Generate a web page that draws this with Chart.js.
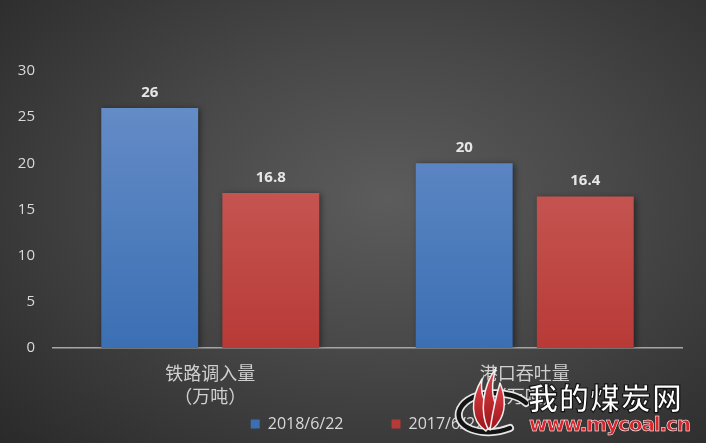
<!DOCTYPE html>
<html>
<head>
<meta charset="utf-8">
<script src="https://cdn.jsdelivr.net/npm/chart.js@4"></script>
<style>
  html, body { margin: 0; padding: 0; }
  body { width: 706px; height: 443px; overflow: hidden; }
  #wrap {
    position: relative; width: 706px; height: 443px;
    background: radial-gradient(ellipse 75% 80% at 55% 45%, #5c5c5c 0%, #474747 45%, #2a2a2a 100%);
  }
  canvas { position: absolute; left: 0; top: 0; }
  .logo { position: absolute; left: 430px; top: 365px; }
  .wm1 {
    position: absolute; left: 528px; top: 376px;
    font: bold 30px "Noto Sans CJK SC"; color: #fff; line-height: 40px;
    -webkit-text-stroke: 1.2px #111; letter-spacing: 1px;
  }
  .wm2 {
    position: absolute; left: 529px; top: 412px;
    font: bold 20px "DejaVu Sans"; color: #d8262c; letter-spacing: -1.1px;
    -webkit-text-stroke: 0.5px #fff;
  }
</style>
</head>
<body>
<div id="wrap">
  <canvas id="chart" width="706" height="443"></canvas>
  <svg class="logo" width="110" height="78" viewBox="0 0 110 78">
    <defs>
      <linearGradient id="fl" x1="0" y1="0" x2="0" y2="1">
        <stop offset="0" stop-color="#e0424a"/>
        <stop offset="1" stop-color="#9e1419"/>
      </linearGradient>
    </defs>
    <path d="M96 38 C 82 24, 40 24, 30 44 C 22 62, 52 74, 80 63" fill="none" stroke="#e6e6e6" stroke-width="8" stroke-linecap="round"/>
    <path d="M96 38 C 82 24, 40 24, 30 44 C 22 62, 52 74, 80 63" fill="none" stroke="#151515" stroke-width="4.5" stroke-linecap="round"/>
    <g fill="url(#fl)" stroke="#f0f0f0" stroke-width="1.5" stroke-linejoin="round">
      <path d="M56 66 C 40 56, 40 34, 52 14 C 50 28, 54 36, 60 46 C 62 56, 60 62, 56 66 Z"/>
      <path d="M58 64 C 50 48, 52 22, 66 3 C 60 22, 62 34, 68 44 C 70 54, 64 60, 58 64 Z"/>
      <path d="M60 65 C 62 52, 64 38, 70 18 C 76 32, 76 48, 68 58 C 66 62, 62 64, 60 65 Z"/>
    </g>
  </svg>
  <div class="wm1">我的煤炭网</div>
  <div class="wm2">www.mycoal.cn</div>
</div>
<script>
const categories = [['铁路调入量', '（万吨）'], ['港口吞吐量', '（万吨）']];
const series2018 = [26, 20];
const series2017 = [16.8, 16.4];
const seriesNames = ['2018/6/22', '2017/6/22'];
const yTicks = [0, 5, 10, 15, 20, 25, 30];

function barGradient(ctx, top, bottom) {
  const area = ctx.chart.chartArea;
  if (!area) return top;
  const g = ctx.chart.ctx.createLinearGradient(0, area.top, 0, area.bottom);
  g.addColorStop(0, top);
  g.addColorStop(1, bottom);
  return g;
}

// value labels above each bar
const valueLabels = {
  id: 'valueLabels',
  afterDatasetsDraw(chart) {
    const ctx = chart.ctx;
    ctx.save();
    ctx.font = 'bold 15px "Open Sans"';
    ctx.fillStyle = '#e6e6e6';
    ctx.textAlign = 'center';
    ctx.textBaseline = 'bottom';
    chart.data.datasets.forEach((ds, i) => {
      chart.getDatasetMeta(i).data.forEach((bar, j) => {
        ctx.fillText(String(ds.data[j]), bar.x, bar.y - 8);
      });
    });
    ctx.restore();
  }
};

// soft shadow behind bars
const barShadow = {
  id: 'barShadow',
  beforeDatasetsDraw(chart) {
    chart.ctx.save();
    chart.ctx.shadowColor = 'rgba(0,0,0,0.45)';
    chart.ctx.shadowBlur = 6;
    chart.ctx.shadowOffsetX = 2;
    chart.ctx.shadowOffsetY = 1;
  },
  afterDatasetsDraw(chart) {
    chart.ctx.restore();
  }
};

new Chart(document.getElementById('chart'), {
  type: 'bar',
  data: {
    labels: categories,
    datasets: [
      {
        label: seriesNames[0],
        data: series2018,
        backgroundColor: ctx => barGradient(ctx, '#6a90c9', '#3b6fb3'),
        categoryPercentage: 0.77,
        barPercentage: 0.8
      },
      {
        label: seriesNames[1],
        data: series2017,
        backgroundColor: ctx => barGradient(ctx, '#cf6964', '#b83a37'),
        categoryPercentage: 0.77,
        barPercentage: 0.8
      }
    ]
  },
  options: {
    responsive: false,
    animation: false,
    layout: { padding: { top: 71, right: 24, left: 0, bottom: 1 } },
    scales: {
      x: {
        grid: { display: false },
        border: { color: '#a6a6a6', width: 1.5 },
        ticks: {
          color: '#cfcfcf',
          font: { family: '"Noto Sans CJK SC"', size: 18, lineHeight: 1.28 },
          padding: 6
        },
        afterFit(axis) {
          // labels reach into the legend band, so don't clip them to the axis box
          axis.height = 20;
          axis._computeLabelArea = () => undefined;
        }
      },
      y: {
        min: 0,
        max: 30,
        grid: { display: false },
        border: { display: false },
        afterBuildTicks(axis) { axis.ticks = yTicks.map(v => ({ value: v })); },
        ticks: {
          color: '#d9d9d9',
          font: { family: '"Open Sans"', size: 15 },
          padding: 10
        },
        afterFit(axis) { axis.width = 53; }
      }
    },
    plugins: {
      legend: {
        position: 'bottom',
        fullSize: false,
        labels: {
          color: '#d9d9d9',
          font: { family: '"Open Sans"', size: 16 },
          boxWidth: 9,
          boxHeight: 9,
          padding: 48
        }
      },
      tooltip: { enabled: false }
    }
  },
  plugins: [barShadow, valueLabels]
});
</script>
</body>
</html>
